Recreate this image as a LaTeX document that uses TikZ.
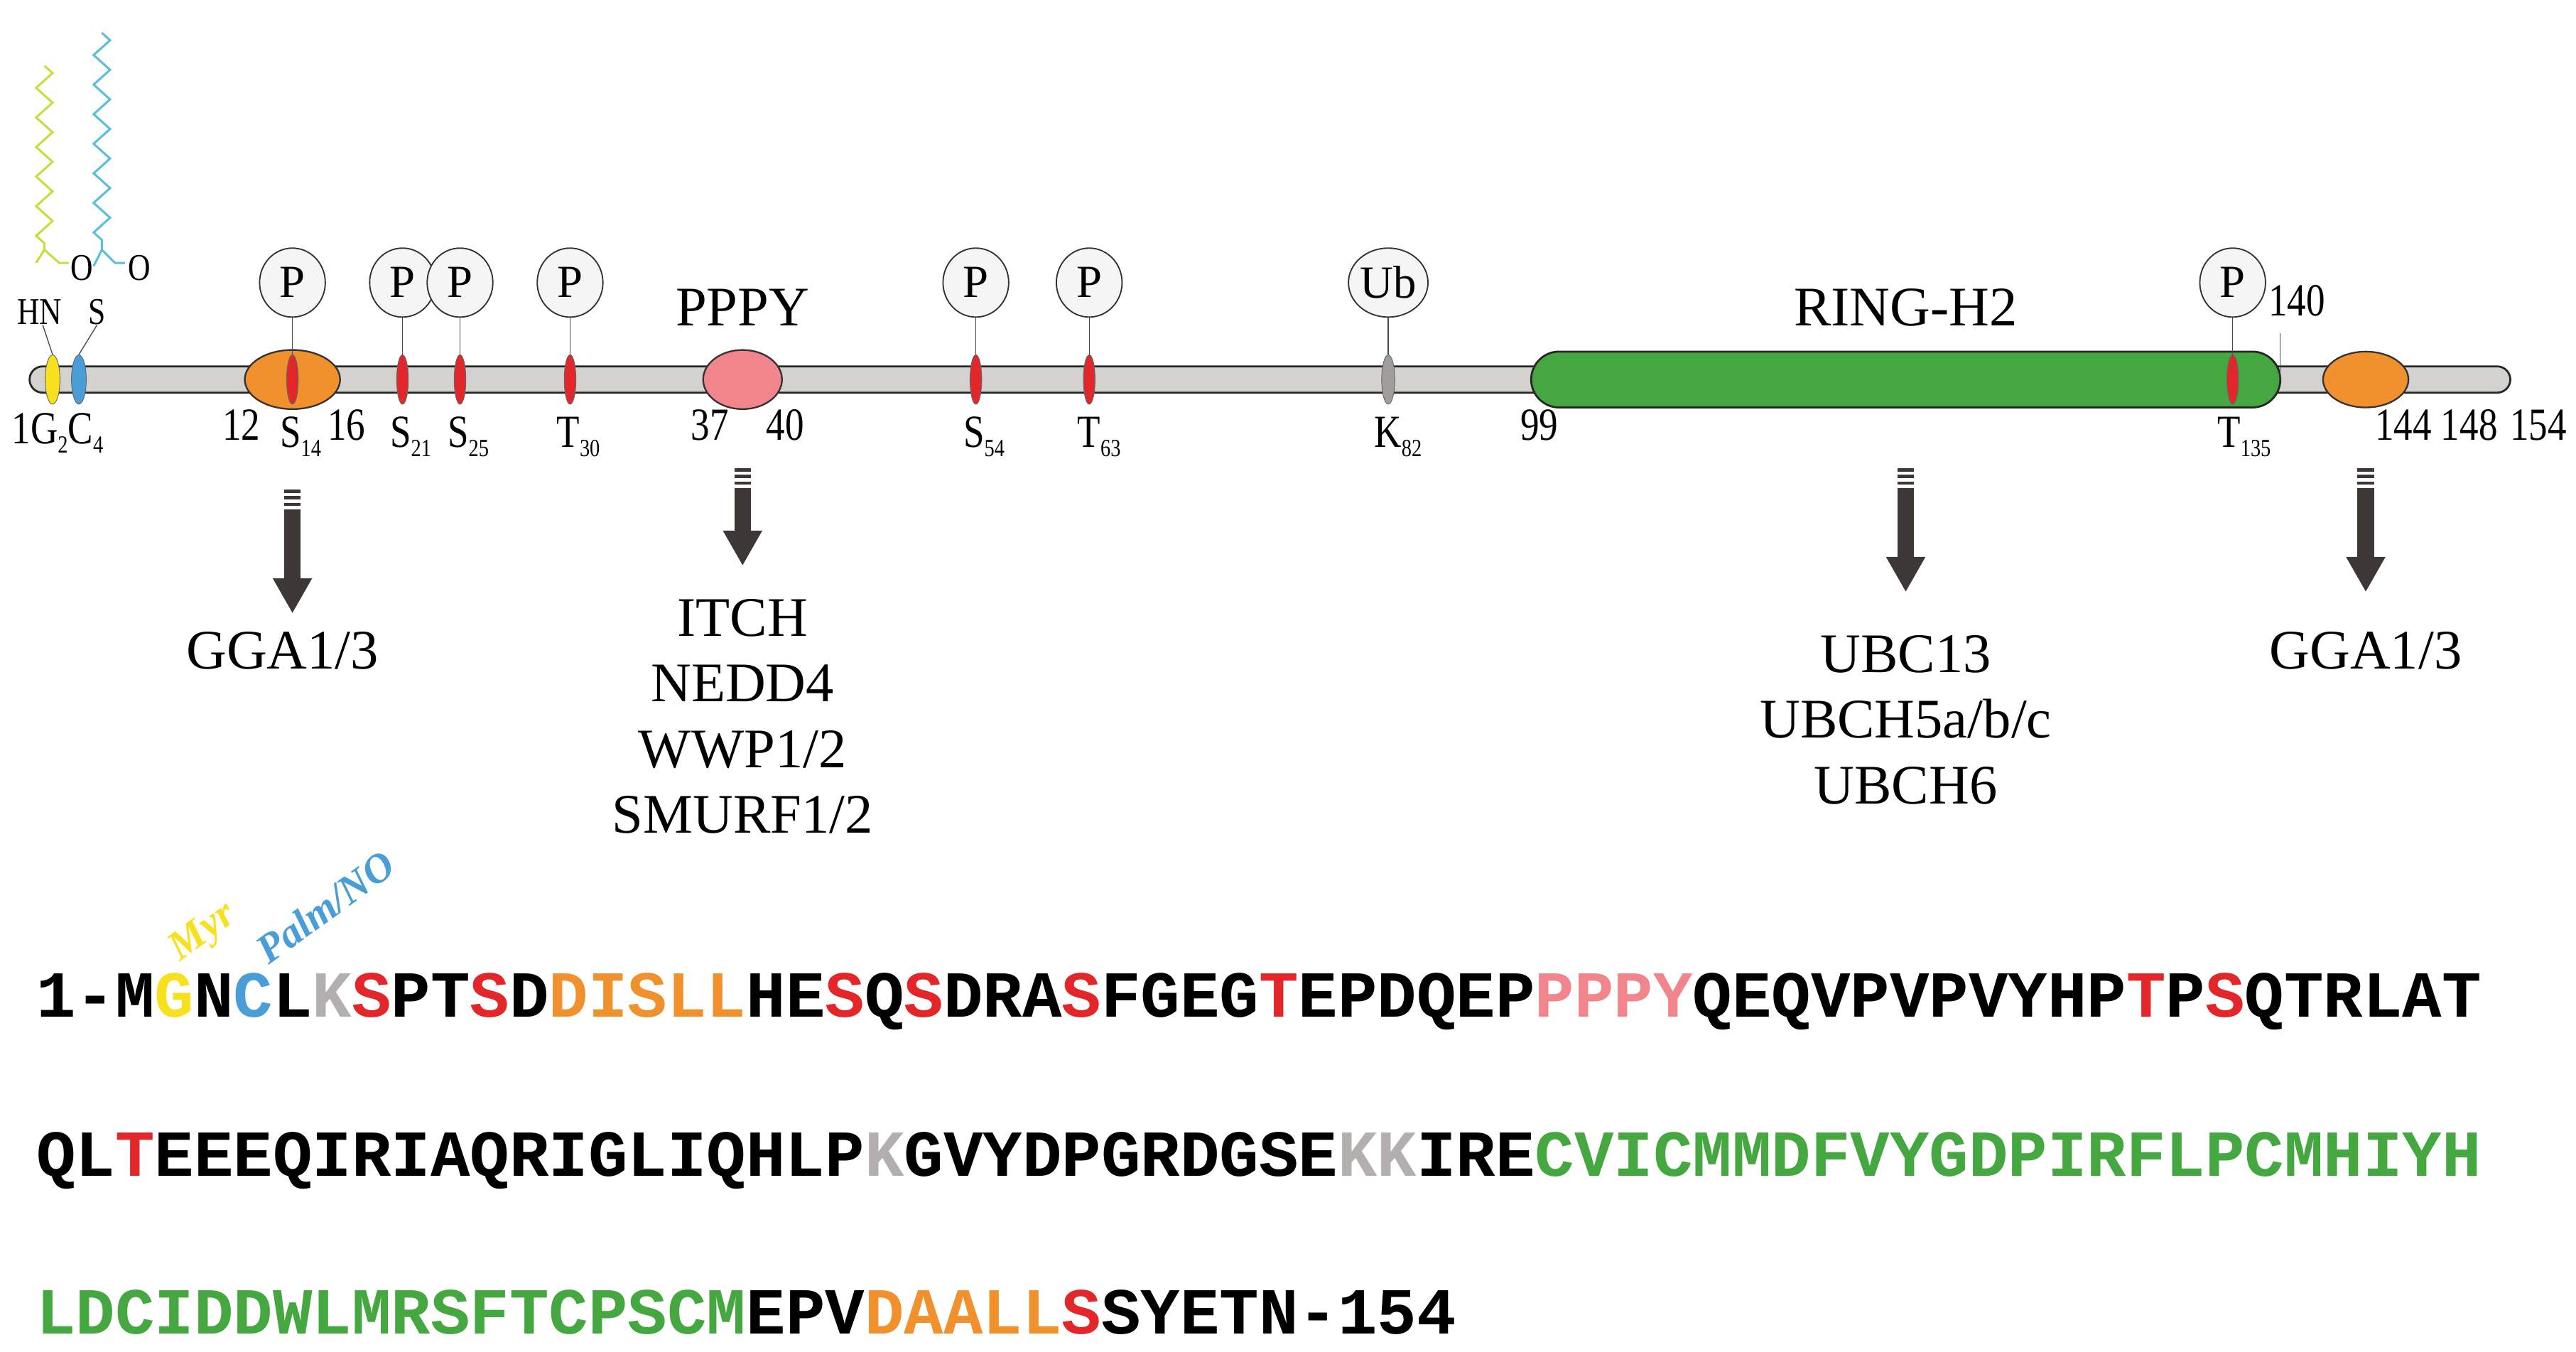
\documentclass[tikz,border=0pt]{standalone}
\usepackage{fontspec}
\setmainfont{Liberation Serif}
\newfontfamily\monob{Liberation Mono}
\usetikzlibrary{decorations.pathmorphing,shapes.geometric}
\definecolor{cbar}{HTML}{D4D2CF}
\definecolor{cred}{HTML}{E3262A}
\definecolor{cora}{HTML}{F0912D}
\definecolor{cpink}{HTML}{F2848C}
\definecolor{cgrn}{HTML}{45A73F}
\definecolor{cyel}{HTML}{F7E01E}
\definecolor{cblu}{HTML}{4A9ED8}
\definecolor{cgry}{HTML}{B3AFAE}
\definecolor{clime}{HTML}{C8DC3C}
\definecolor{ccyan}{HTML}{5BBFD9}
\definecolor{carr}{HTML}{3D3836}
\newcommand{\sbs}[1]{\raisebox{-0.45ex}{\fontsize{15}{15}\selectfont #1}}
\newcommand{\Rd}[1]{\textcolor{cred}{#1}}
\newcommand{\Or}[1]{\textcolor{cora}{#1}}
\newcommand{\Gn}[1]{\textcolor{cgrn}{#1}}
\newcommand{\Gy}[1]{\textcolor{cgry}{#1}}
\newcommand{\Pk}[1]{\textcolor{cpink}{#1}}
\begin{document}
\begin{tikzpicture}[x=1pt,y=-1pt,
  lab/.style={font=\fontsize{28}{28}\selectfont, inner sep=0pt, xscale=0.82},
  big/.style={font=\fontsize{34}{40}\selectfont, inner sep=0pt, align=center},
  pcirc/.style={ellipse, draw=black!80, line width=0.8pt, fill=black!4, minimum width=40pt, minimum height=42pt, inner sep=0pt, font=\fontsize{28}{28}\selectfont},
  site/.style={ellipse, draw=black!60, line width=0.5pt, fill=cred, minimum width=7pt, minimum height=30pt, inner sep=0pt},
  seq/.style={font=\monob\bfseries\fontsize{40}{40}\selectfont, inner sep=0pt, anchor=base west},
  stalk/.style={draw=black!70, line width=0.6pt}
]
\useasboundingbox (0,0) rectangle (1568,822.5);
% lipid chains
\draw[clime, line width=1.3pt, decoration={zigzag, segment length=18pt, amplitude=5pt}, decorate] (27,40) -- (27,152);
\draw[clime, line width=1.3pt] (27,152) -- (22,160) (27,152) -- (36,160) -- (42,160);
\draw[ccyan, line width=1.3pt, decoration={zigzag, segment length=18pt, amplitude=5pt}, decorate] (62,20) -- (62,152);
\draw[ccyan, line width=1.3pt] (62,152) -- (57,162) (62,152) -- (70,160) -- (76,160);
\node[lab, font=\fontsize{23}{23}\selectfont] (o1) at (50,163) {O};
\node[lab, font=\fontsize{23}{23}\selectfont] (o2) at (85,163) {O};
\node[lab, font=\fontsize{23}{23}\selectfont] (hn) at (24,190) {HN};
\node[lab, font=\fontsize{23}{23}\selectfont] (sS) at (59,190) {S};
% bar
\node[draw=black!85, line width=1.2pt, fill=cbar, rounded corners=8pt, minimum width=1510pt, minimum height=16pt, inner sep=0pt] (bar) at (773,231) {};
% domains
\node[ellipse, draw=black!80, line width=1pt, fill=cora, minimum width=58pt, minimum height=36pt] (d12) at (178,231) {};
\node[ellipse, draw=black!80, line width=1pt, fill=cora, minimum width=52pt, minimum height=34pt] (d144) at (1440,231) {};
\node[ellipse, draw=black!80, line width=1pt, fill=cpink, minimum width=48pt, minimum height=36pt] (dppy) at (452,231) {};
\node[draw=black!85, line width=1.2pt, fill=cgrn, rounded corners=17pt, minimum width=456pt, minimum height=34pt, inner sep=0pt] (ring) at (1160,231) {};
% small sites
\node[ellipse, draw=black!60, fill=cyel, minimum width=9pt, minimum height=30pt, inner sep=0pt] (g2) at (32,231) {};
\node[ellipse, draw=black!60, fill=cblu, minimum width=9pt, minimum height=30pt, inner sep=0pt] (c4) at (48,231) {};
\draw[stalk] (hn.south) ++(2,0) -- (g2.north);
\draw[stalk] (sS.south) -- (c4.north);
\foreach \n/\x in {s14/178, s21/245, s25/280, t30/347, s54/594, t63/663, t135/1359} {
  \node[site] (\n) at (\x,231) {};
  \node[pcirc] (p\n) at (\x,172) {P};
  \draw[stalk] (p\n.south) -- (\n.north);
}
\node[ellipse, draw=black!60, fill=cgry!90!black, minimum width=8pt, minimum height=30pt, inner sep=0pt] (k82) at (845,231) {};
\node[pcirc] (ub) at (845,172) {Ub};
\draw[stalk] (ub.south) -- (k82.north);
\coordinate (c140) at (1388,231);
\draw[stalk] (c140) -- (1388,203);
% top labels
\node[big] (ppy) at (452,187) {PPPY};
\node[big] (rng) at (1160,187) {RING-H2};
\node[lab] (l140) at (1398,183) {140};
% bottom labels
\node[lab, anchor=base] (l1) at (35,270) {1G\sbs{2}C\sbs{4}};
\node[lab, anchor=base] (l12) at (147,268) {12};
\node[lab, anchor=base] (l14) at (183,272) {S\sbs{14}};
\node[lab, anchor=base] (l16) at (211,268) {16};
\node[lab, anchor=base] (l21) at (250,272) {S\sbs{21}};
\node[lab, anchor=base] (l25) at (285,272) {S\sbs{25}};
\node[lab, anchor=base] (l30) at (352,272) {T\sbs{30}};
\node[lab, anchor=base] (l37) at (432,268) {37};
\node[lab, anchor=base] (l40) at (478,268) {40};
\node[lab, anchor=base] (l54) at (599,272) {S\sbs{54}};
\node[lab, anchor=base] (l63) at (669,272) {T\sbs{63}};
\node[lab, anchor=base] (l82) at (851,272) {K\sbs{82}};
\node[lab, anchor=base] (l99) at (937,268) {99};
\node[lab, anchor=base] (l135) at (1366,272) {T\sbs{135}};
\node[lab, anchor=base] (l144) at (1463,268) {144};
\node[lab, anchor=base] (l148) at (1503,268) {148};
\node[lab, anchor=base] (l154) at (1545,268) {154};
% arrows
\foreach \x/\t/\b in {178/298/373, 452/285/344, 1160/285/360, 1440/285/360} {
  \fill[carr] (\x-5,\t) rectangle (\x+5,\t+2);
  \fill[carr] (\x-5,\t+4) rectangle (\x+5,\t+6);
  \fill[carr] (\x-5,\t+8) rectangle (\x+5,\t+10);
  \fill[carr] (\x-5,\t+12) rectangle (\x+5,\b-20);
  \fill[carr] (\x-12,\b-21) -- (\x+12,\b-21) -- (\x,\b) -- cycle;
}
\node[big] (gga1) at (172,396) {GGA1/3};
\node[big] (e3) at (452,436) {ITCH\\NEDD4\\WWP1/2\\SMURF1/2};
\node[big] (e2) at (1160,438) {UBC13\\UBCH5a/b/c\\UBCH6};
\node[big] (gga2) at (1440,396) {GGA1/3};
% modification labels
\node[font=\bfseries\itshape\fontsize{25}{25}\selectfont, text=cyel, rotate=36, inner sep=0pt] (myr) at (124,568) {Myr};
\node[font=\bfseries\itshape\fontsize{25}{25}\selectfont, text=cblu, rotate=36, inner sep=0pt] (palm) at (198,552) {Palm/NO};
% sequence
\node[seq] (seq1) at (22,619) {1-M\textcolor{cyel}{G}N\textcolor{cblu}{C}L\Gy{K}\Rd{S}PT\Rd{S}D\Or{DISLL}HE\Rd{S}Q\Rd{S}DRA\Rd{S}FGEG\Rd{T}EPDQEP\Pk{PPPY}QEQVPVPVYHP\Rd{T}P\Rd{S}QTRLAT};
\node[seq] (seq2) at (22,716) {QL\Rd{T}EEEQIRIAQRIGLIQHLP\Gy{K}GVYDPGRDGSE\Gy{KK}IRE\Gn{CVICMMDFVYGDPIRFLPCMHIYH}};
\node[seq] (seq3) at (22,812) {\Gn{LDCIDDWLMRSFTCPSCM}EPV\Or{DAALL}\Rd{S}SYETN-154};
\end{tikzpicture}
\end{document}
